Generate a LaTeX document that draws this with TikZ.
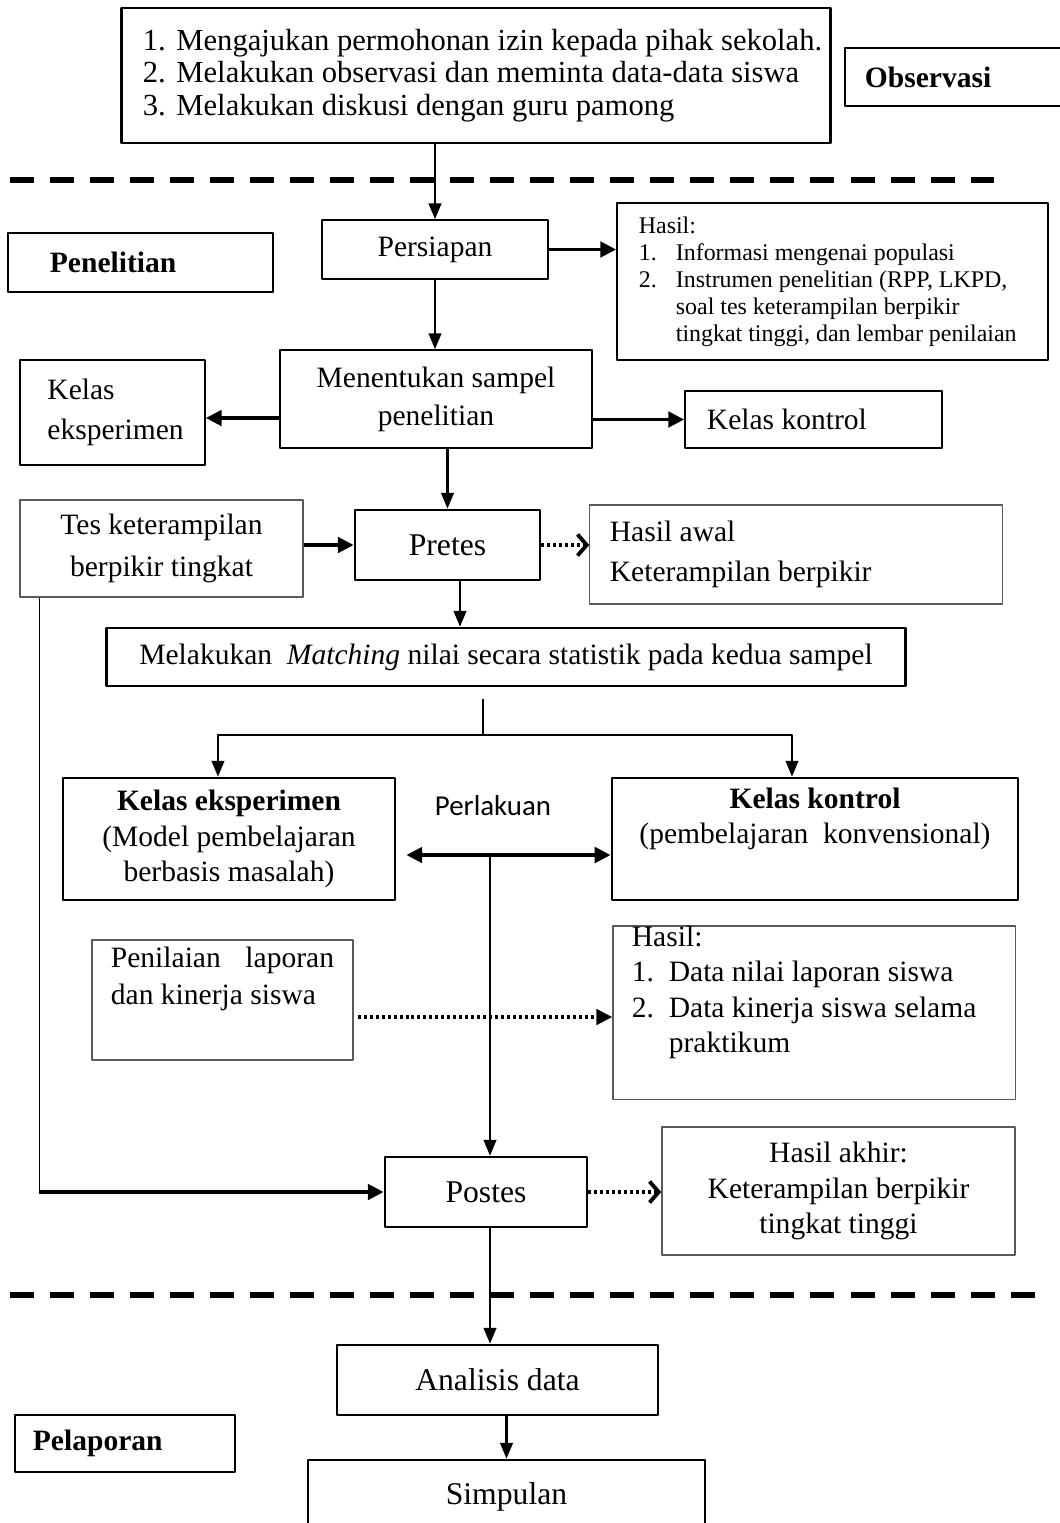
\documentclass[tikz,border=0pt]{standalone}
\usepackage{fontspec}
\setmainfont{Liberation Serif}
\newfontfamily\calibri{Carlito}
\usetikzlibrary{arrows.meta}

\begin{document}
\begin{tikzpicture}[x=0.01cm, y=-0.01cm, line join=round, font=\fontsize{8.4}{10.5}\selectfont,
	>={Triangle[length=4.5pt,width=3.6pt]}]
	\tikzset{box/.style={draw, line width=0.45pt, inner sep=0pt},
		boxtebal/.style={box, line width=0.75pt},
		boxtipis/.style={box, line width=0.35pt, draw=black!65},
		panah/.style={->, line width=0.6pt},
		panahtebal/.style={line width=1pt, >={Triangle[length=4.5pt,width=4.4pt]}, ->},
		titik/.style={line width=0.9pt, line cap=butt, dash pattern=on 0.85pt off 0.85pt},
		kait/.style={titik, -{Straight Barb[length=2.6pt,width=6pt,line width=1.1pt]}},
		pemisah/.style={line width=1.7pt, line cap=butt, dash pattern=on 0.24cm off 0.16cm}}
	\useasboundingbox (0,0) rectangle (1060,1523);
	
	%Garis pemisah tahap
	\draw[pemisah] (10,180) -- (994,180);
	\draw[pemisah] (10,1295) -- (1045,1295);
	
	%Tahap observasi
	\node[boxtebal, minimum width=7.08cm, minimum height=1.35cm, text width=6.66cm, align=flush left,
		font=\fontsize{8.7}{9.3}\selectfont] (izin) at (476,75.5)
		{\mbox{\makebox[1.1em][l]{1.}Mengajukan permohonan izin kepada pihak sekolah.}\\
		\mbox{\makebox[1.1em][l]{2.}Melakukan observasi dan meminta data-data siswa}\\
		\mbox{\makebox[1.1em][l]{3.}Melakukan diskusi dengan guru pamong}};
	\node[box, minimum width=2.3cm, minimum height=0.58cm, text width=1.9cm, align=flush left,
		font=\fontsize{8.4}{10}\selectfont\bfseries] (observasi) at (960,77) {Observasi};
	
	%Tahap penelitian
	\node[box, minimum width=2.65cm, minimum height=0.59cm, text width=1.81cm, align=flush left,
		font=\fontsize{8.4}{10}\selectfont\bfseries] (penelitian) at (140.5,262.5) {Penelitian};
	\node[box, minimum width=2.26cm, minimum height=0.59cm] (persiapan) at (435,249.5) {Persiapan};
	\node[box, minimum width=4.31cm, minimum height=1.57cm, text width=3.87cm, align=flush left,
		font=\fontsize{6.8}{7.7}\selectfont] (hasil1) at (832.5,281.5)
		{Hasil:\\
		\makebox[0.37cm][l]{1.}Informasi mengenai populasi\\
		\makebox[0.37cm][l]{2.}Instrumen penelitian (RPP, LKPD,\\
		\hspace*{0.37cm}soal tes keterampilan berpikir\\
		\hspace*{0.37cm}tingkat tinggi, dan lembar penilaian};
	\node[box, minimum width=3.12cm, minimum height=0.98cm, align=center,
		font=\fontsize{8.4}{10.8}\selectfont] (sampel) at (436,399) {Menentukan sampel\\penelitian};
	\node[box, minimum width=1.85cm, minimum height=1.05cm, text width=1.3cm, align=flush left,
		font=\fontsize{8.4}{11.2}\selectfont] (eksperimen1) at (112.5,412.5) {Kelas\\eksperimen};
	\node[box, minimum width=2.57cm, minimum height=0.57cm, text width=2.13cm, align=flush left] (kontrol1)
		at (813.5,419.5) {Kelas kontrol};
	\node[boxtipis, minimum width=2.83cm, minimum height=0.97cm, align=center,
		font=\fontsize{8.4}{11.8}\selectfont] (tes) at (161.5,548.5) {Tes keterampilan\\berpikir tingkat};
	\node[boxtebal, minimum width=1.85cm, minimum height=0.7cm, font=\fontsize{9}{11}\selectfont] (pretes)
		at (447.5,545) {Pretes};
	\node[boxtipis, minimum width=4.12cm, minimum height=0.99cm, text width=3.72cm, align=flush left,
		font=\fontsize{8.4}{11.3}\selectfont] (awal) at (796,554.5) {Hasil awal\\Keterampilan berpikir};
	\node[boxtebal, minimum width=7.98cm, minimum height=0.58cm] (matching) at (506,657)
		{Melakukan~~\textit{Matching} nilai secara statistik pada kedua sampel};
	\node[boxtebal, minimum width=3.32cm, minimum height=1.22cm, align=center,
		font=\fontsize{8.4}{10.1}\selectfont] (eksperimen2) at (229,839)
		{\textbf{Kelas eksperimen}\\(Model pembelajaran\\berbasis masalah)};
	\node[boxtebal, minimum width=4.06cm, minimum height=1.22cm, align=center,
		font=\fontsize{8.4}{10.1}\selectfont] (kontrol2) at (815,839)
		{\textbf{Kelas kontrol}\\(pembelajaran~~konvensional)\\\strut};
	\node[font=\calibri\fontsize{8.2}{10}\selectfont] (perlakuan) at (493,806) {Perlakuan};
	\node[boxtipis, minimum width=2.61cm, minimum height=1.2cm, text width=2.23cm, align=flush left,
		font=\fontsize{8.4}{10.5}\selectfont] (penilaian) at (222.5,1000)
		{Penilaian\hfill laporan\\dan kinerja siswa\\\strut};
	\node[boxtipis, minimum width=4.02cm, minimum height=1.69cm, text width=3.64cm, align=flush left,
		font=\fontsize{8.4}{10.1}\selectfont] (hasil2) at (814,1012.5)
		{Hasil:\\
		\makebox[1.25em][l]{1.}Data nilai laporan siswa\\
		\makebox[1.25em][l]{2.}Data kinerja siswa selama\\
		\hspace*{1.25em}praktikum\\\strut};
	\node[boxtebal, minimum width=2.02cm, minimum height=0.7cm, font=\fontsize{9}{11}\selectfont] (postes)
		at (486,1192) {Postes};
	\node[boxtipis, minimum width=3.53cm, minimum height=1.28cm, align=center,
		font=\fontsize{8.4}{10.2}\selectfont] (akhir) at (838.5,1191)
		{Hasil akhir:\\Keterampilan berpikir\\tingkat tinggi};
	
	%Tahap pelaporan
	\node[boxtebal, minimum width=3.21cm, minimum height=0.7cm, font=\fontsize{9}{11}\selectfont] (analisis)
		at (497.5,1380) {Analisis data};
	\node[boxtebal, minimum width=3.97cm, minimum height=0.74cm, font=\fontsize{9}{11}\selectfont] (simpulan)
		at (506.5,1497) {Simpulan};
	\node[box, minimum width=2.2cm, minimum height=0.57cm, text width=1.84cm, align=flush left,
		font=\fontsize{8.4}{10}\selectfont\bfseries] (pelaporan) at (125,1443.5) {Pelaporan};
	
	%Panah
	\draw[panah] (izin.south -| persiapan.north) -- (persiapan.north);
	\draw[panahtebal] (persiapan.east) -- (persiapan.east -| hasil1.west);
	\draw[panah] (persiapan.south) -- (persiapan.south |- sampel.north);
	\draw[panahtebal] ([yshift=-1.9mm]sampel.west) -- ([yshift=-1.9mm]sampel.west -| eksperimen1.east);
	\draw[panahtebal] (sampel.east |- kontrol1.west) -- (kontrol1.west);
	\draw[panah] (sampel.south -| pretes.north) -- (pretes.north);
	\draw[panahtebal] (tes.east |- pretes.west) -- (pretes.west);
	\draw[kait] (pretes.east) -- (pretes.east -| awal.west);
	\draw[panah] ([xshift=1.25mm]pretes.south) -- ([xshift=1.25mm]pretes.south |- matching.north);
	
	\coordinate (pisah) at (483,735);
	\draw[line width=0.6pt] ([yshift=-1.2mm]matching.south -| pisah) -- (pisah);
	\draw[panah] (pisah) -| ([xshift=-1.1mm]eksperimen2.north);
	\draw[panah] (pisah) -| ([xshift=-2.3mm]kontrol2.north);
	\draw[panahtebal, <->] ([xshift=1mm,yshift=-1.6mm]eksperimen2.east) -- ([yshift=-1.6mm]kontrol2.west);
	
	\coordinate (cabang) at (490,855);
	\draw[panah] (cabang) -- (cabang |- postes.north);
	\draw[titik, -{Triangle[length=4.5pt,width=4.4pt]}] ([xshift=0.4mm,yshift=-1.7mm]penilaian.east)
		-- ([yshift=-1.7mm]penilaian.east -| hasil2.west);
	
	\coordinate (kiri) at ([xshift=2mm]tes.south west);
	\coordinate (siku) at (kiri |- postes.west);
	\draw[line width=0.45pt] (kiri) -- (siku);
	\draw[panahtebal] (siku) -- (postes.west);
	\draw[kait] (postes.east) -- (postes.east -| akhir.west);
	\draw[panah] ([xshift=0.4mm]postes.south) -- ([xshift=0.4mm]postes.south |- analisis.north);
	\draw[panah] (analisis.south -| simpulan.north) -- (simpulan.north);
\end{tikzpicture}
\end{document}
